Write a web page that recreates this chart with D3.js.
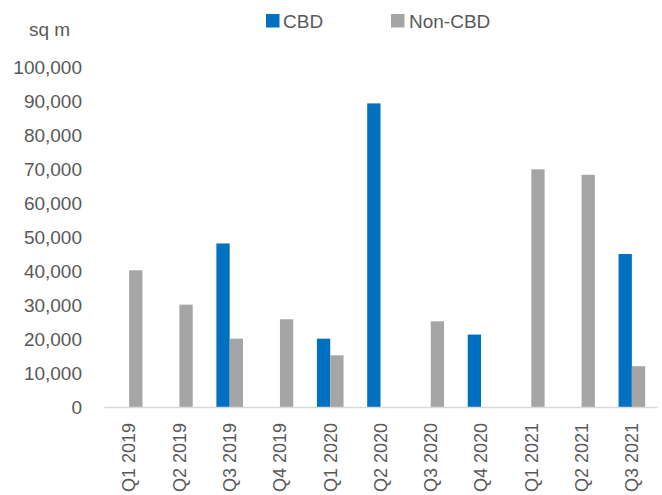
<!DOCTYPE html>
<html>
<head>
<meta charset="utf-8">
<script src="https://cdn.jsdelivr.net/npm/d3@7/dist/d3.min.js"></script>
<style>
  html, body { margin: 0; padding: 0; background: #fff; }
  svg { display: block; }
  text { font-family: "Liberation Sans", Arial, sans-serif; fill: #595959; }
</style>
</head>
<body>
<svg id="chart" width="662" height="495"></svg>
<script>
// Quarterly take-up, square metres
const quarters = ["Q1 2019", "Q2 2019", "Q3 2019", "Q4 2019", "Q1 2020", "Q2 2020",
                  "Q3 2020", "Q4 2020", "Q1 2021", "Q2 2021", "Q3 2021"];
const seriesNames = ["CBD", "Non-CBD"];
const cbdValues    = [0, 0, 48100, 0, 20100, 89300, 0, 21300, 0, 0, 45000];
const nonCbdValues = [40200, 30100, 20100, 25800, 15200, 0, 25200, 0, 69900, 68300, 12000];
const yTicks = [0, 10000, 20000, 30000, 40000, 50000, 60000, 70000, 80000, 90000, 100000];
const seriesColors = ["#0070C0", "#A5A5A5"];

const svg = d3.select("#chart");
const plot = { left: 104, right: 657, top: 67, bottom: 407 };

const x0 = d3.scaleBand().domain(quarters).range([plot.left, plot.right]).padding(0);
const barW = 13.3;
const x1 = d3.scaleBand().domain(seriesNames)
  .range([x0.bandwidth() / 2 - barW, x0.bandwidth() / 2 + barW]).padding(0);
const y = d3.scaleLinear().domain([0, 100000]).range([plot.bottom, plot.top]);

const color = d3.scaleOrdinal().domain(seriesNames).range(seriesColors);

const rows = quarters.map((q, i) => ({
  quarter: q,
  values: [
    { key: "CBD", value: cbdValues[i] },
    { key: "Non-CBD", value: nonCbdValues[i] }
  ]
}));

// Bars
const groups = svg.append("g").selectAll("g")
  .data(rows).join("g")
  .attr("transform", d => `translate(${x0(d.quarter)},0)`);

groups.selectAll("rect")
  .data(d => d.values.filter(v => v.value > 0))
  .join("rect")
  .attr("x", d => x1(d.key))
  .attr("width", x1.bandwidth())
  .attr("y", d => y(d.value))
  .attr("height", d => y(0) - y(d.value))
  .attr("fill", d => color(d.key));

// Y axis labels
const yAxis = d3.axisLeft(y).tickValues(yTicks).tickSize(0).tickPadding(0)
  .tickFormat(d3.format(","));
const yG = svg.append("g").attr("transform", "translate(82,0)").call(yAxis);
yG.select(".domain").remove();
yG.selectAll("text")
  .style("font-size", "19px")
  .attr("fill", "#595959")
  .attr("dy", "0.35em");

// Category axis
const xAxis = d3.axisBottom(x0).tickSize(0).tickPadding(0);
const xG = svg.append("g").attr("transform", `translate(0,${plot.bottom})`).call(xAxis);
xG.select(".domain").attr("stroke", "#D9D9D9").attr("stroke-width", 1.5);
xG.selectAll("text")
  .style("font-size", "18px")
  .attr("fill", "#595959")
  .attr("text-anchor", "end")
  .attr("transform", "rotate(-90)")
  .attr("x", -16)
  .attr("y", 0)
  .attr("dy", "0.35em");

// Unit label
svg.append("text").attr("x", 29).attr("y", 36)
  .style("font-size", "19px").text("sq m");

// Legend
const legendItems = [
  { key: "CBD", sx: 266, tx: 283 },
  { key: "Non-CBD", sx: 391, tx: 409 }
];
const legend = svg.append("g");
legend.selectAll("rect").data(legendItems).join("rect")
  .attr("x", d => d.sx).attr("y", 14)
  .attr("width", 13.5).attr("height", 13.5)
  .attr("fill", d => color(d.key));
legend.selectAll("text").data(legendItems).join("text")
  .attr("x", d => d.tx).attr("y", 27.5)
  .style("font-size", "19px")
  .text(d => d.key);
</script>
</body>
</html>
